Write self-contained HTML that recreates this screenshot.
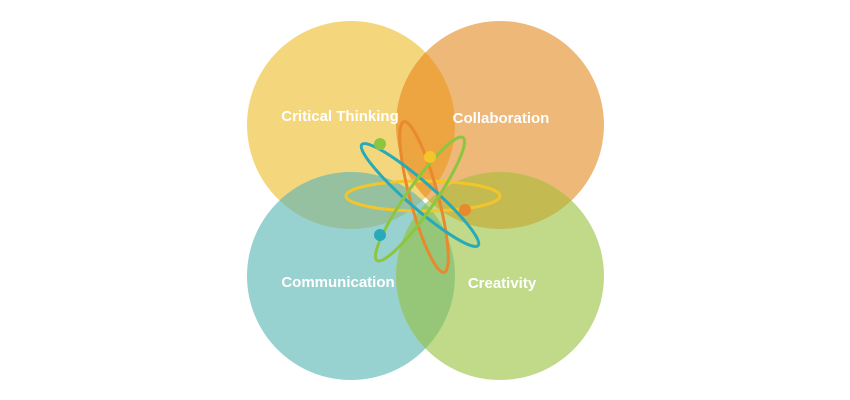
<!DOCTYPE html>
<html><head><meta charset="utf-8"><style>
html,body{margin:0;padding:0;background:#fff;width:850px;height:400px;overflow:hidden}
svg{display:block}
text{font-family:"Liberation Sans",sans-serif;font-weight:bold;font-size:15px;fill:#fff;text-anchor:middle}
</style></head><body>
<svg width="850" height="400" viewBox="0 0 850 400">
<defs>
<clipPath id="cTL"><circle cx="351" cy="125" r="104"/></clipPath>
<clipPath id="cTR"><circle cx="500" cy="125" r="104"/></clipPath>
<clipPath id="cBL"><circle cx="351" cy="276" r="104"/></clipPath>
<clipPath id="cBR"><circle cx="500" cy="276" r="104"/></clipPath>
</defs>
<circle cx="351" cy="125" r="104" fill="#f4d77d"/>
<circle cx="500" cy="125" r="104" fill="#eeb878"/>
<circle cx="351" cy="276" r="104" fill="#98d2d0"/>
<circle cx="500" cy="276" r="104" fill="#c0da8a"/>
<g clip-path="url(#cTL)"><circle cx="351" cy="276" r="104" fill="#95c1a0"/></g>
<g clip-path="url(#cTR)"><circle cx="500" cy="276" r="104" fill="#c4ba52"/></g>
<g clip-path="url(#cTL)"><circle cx="500" cy="125" r="104" fill="#eca540"/></g>
<g clip-path="url(#cBL)"><circle cx="500" cy="276" r="104" fill="#96c779"/></g>
<text x="340" y="121">Critical Thinking</text>
<text x="501" y="123">Collaboration</text>
<text x="338" y="287">Communication</text>
<text x="502" y="288">Creativity</text>
<g fill="none" stroke-width="3">
<ellipse cx="423" cy="196" rx="77" ry="15" stroke="#f2c62a"/>
<ellipse cx="424" cy="197" rx="14" ry="78" stroke="#e9892e" transform="rotate(-15 424 197)"/>
<ellipse cx="420" cy="195" rx="77" ry="13" stroke="#28aab8" transform="rotate(41 420 195)"/>
<ellipse cx="420" cy="199" rx="75" ry="14" stroke="#8cc63f" transform="rotate(-55 420 199)"/>
</g>
<circle cx="380" cy="144" r="6" fill="#8cc63f"/>
<circle cx="430" cy="157" r="6" fill="#f2c62a"/>
<circle cx="465" cy="210" r="6" fill="#e9892e"/>
<circle cx="380" cy="235" r="6" fill="#28aab8"/>
</svg>
</body></html>
